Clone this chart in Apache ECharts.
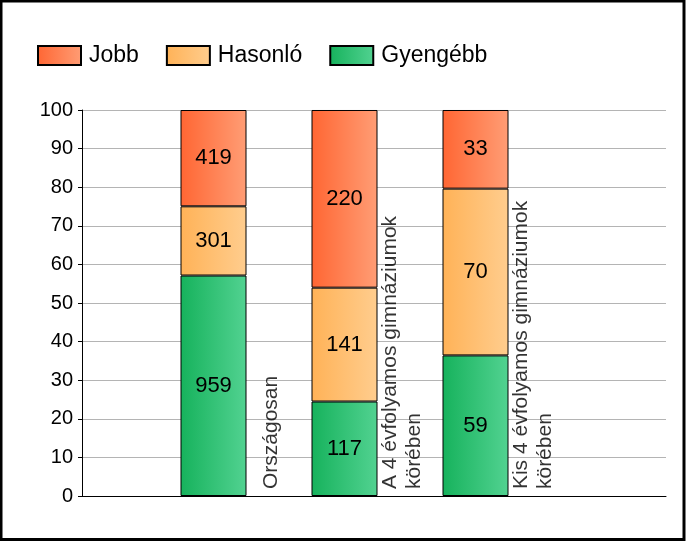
<!DOCTYPE html>
<html>
<head>
<meta charset="utf-8">
<script src="https://cdn.jsdelivr.net/npm/echarts@6/dist/echarts.min.js"></script>
<style>
    html, body { margin: 0; padding: 0; background: #fff; }
    #main { width: 687px; height: 541px; }
</style>
</head>
<body>
<div id="main"></div>
<script type="text/javascript">
    // adatok
    var categories = ['Országosan', 'A 4 évfolyamos gimnáziumok\nkörében', 'Kis 4 évfolyamos gimnáziumok\nkörében'];
    var jobb = [419, 220, 33];
    var hasonlo = [301, 141, 70];
    var gyengebb = [959, 117, 59];
    var yTicks = [0, 10, 20, 30, 40, 50, 60, 70, 80, 90, 100];

    var font = 'Liberation Sans, Arial, sans-serif';

    function grad(c1, c2) {
        return new echarts.graphic.LinearGradient(0, 0, 1, 0, [
            {offset: 0, color: c1},
            {offset: 1, color: c2}
        ]);
    }

    // százalékos arány + darabszám a címkéhez
    function pctData(arr) {
        return arr.map(function (v, i) {
            var total = jobb[i] + hasonlo[i] + gyengebb[i];
            return {value: v / total * 100, count: v};
        });
    }

    function barSerie(name, arr, c1, c2) {
        return {
            name: name,
            type: 'bar',
            stack: 'total',
            xAxisIndex: 1,
            yAxisIndex: 1,
            barWidth: 66,
            data: pctData(arr),
            itemStyle: {
                color: grad(c1, c2),
                borderColor: '#000',
                borderWidth: 1
            },
            label: {
                show: true,
                position: 'inside',
                color: '#000',
                fontFamily: font,
                fontSize: 22,
                formatter: function (p) { return p.data.count; }
            }
        };
    }

    var myChart = echarts.init(document.getElementById('main'));
    myChart.setOption({
        animation: false,
        backgroundColor: '#fff',
        legend: {
            left: 37,
            top: 44,
            padding: 0,
            icon: 'rect',
            itemWidth: 43,
            itemHeight: 19,
            itemGap: 27,
            textStyle: {color: '#000', fontFamily: font, fontSize: 23, padding: [0, 0, 0, 3]},
            data: ['Jobb', 'Hasonló', 'Gyengébb']
        },
        grid: [
            {left: 82, right: 21, top: 110, bottom: 45},
            {left: 148, right: 146, top: 110, bottom: 45}
        ],
        xAxis: [{
            type: 'value',
            gridIndex: 0,
            min: 0,
            max: 4.458,
            axisLine: {show: true, onZero: false, lineStyle: {color: '#000', width: 1}},
            axisTick: {show: false},
            axisLabel: {show: false},
            splitLine: {show: false}
        }, {
            type: 'category',
            gridIndex: 1,
            data: categories,
            axisLine: {show: false},
            axisTick: {show: false},
            axisLabel: {show: false},
            splitLine: {show: false}
        }],
        yAxis: [{
            type: 'value',
            gridIndex: 0,
            min: yTicks[0],
            max: yTicks[yTicks.length - 1],
            interval: 10,
            axisLine: {show: true, lineStyle: {color: '#000', width: 1}},
            axisTick: {show: true, length: 4, lineStyle: {color: '#000'}},
            axisLabel: {color: '#000', fontFamily: font, fontSize: 20, margin: 9},
            splitLine: {lineStyle: {color: '#b4b4b4', width: 1}}
        }, {
            type: 'value',
            gridIndex: 1,
            min: 0,
            max: 100,
            show: false
        }],
        series: [
            barSerie('Gyengébb', gyengebb, '#16b25c', '#52d291'),
            barSerie('Hasonló', hasonlo, '#ffb257', '#ffcd8e'),
            barSerie('Jobb', jobb, '#ff6633', '#ff9d75'),
            {
                // kategórianevek az oszlopok jobb oldalán, elforgatva
                type: 'scatter',
                symbolSize: 1,
                itemStyle: {color: 'rgba(0,0,0,0)'},
                silent: true,
                data: categories.map(function (c, i) {
                    return {value: [i + 1 + 0.443, 1.8], name: c};
                }),
                label: {
                    show: true,
                    position: 'inside',
                    rotate: 90,
                    align: 'left',
                    verticalAlign: 'middle',
                    color: '#000',
                    fontFamily: font,
                    fontSize: 21,
                    lineHeight: 24,
                    formatter: function (p) { return p.name; }
                }
            }
        ],
        graphic: [{
            type: 'rect',
            shape: {x: 1, y: 1, width: 683, height: 538.5},
            style: {fill: null, stroke: '#000', lineWidth: 3},
            silent: true
        }]
    });
</script>
</body>
</html>
